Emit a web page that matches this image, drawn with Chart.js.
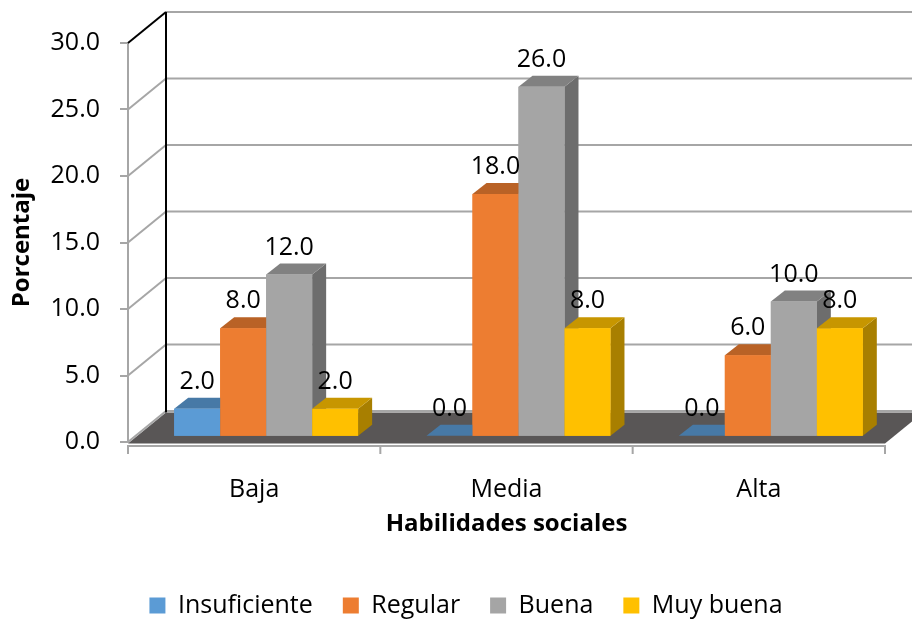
<!DOCTYPE html>
<html>
<head>
<meta charset="utf-8">
<script src="https://cdn.jsdelivr.net/npm/chart.js@4.4.1/dist/chart.umd.min.js"></script>
<style>
  html, body { margin: 0; padding: 0; background: #ffffff; }
  #wrap { width: 912px; height: 621px; }
</style>
</head>
<body>
<div id="wrap"><canvas id="chart" width="912" height="621"></canvas></div>
<script>
// Categories and series values (percentages)
const categories = ['Baja', 'Media', 'Alta'];
const insuficiente = [2.0, 0.0, 0.0];
const regular = [8.0, 18.0, 6.0];
const buena = [12.0, 26.0, 10.0];
const muyBuena = [2.0, 8.0, 8.0];
const seriesNames = ['Insuficiente', 'Regular', 'Buena', 'Muy buena'];
const yTickValues = [0, 5, 10, 15, 20, 25, 30];

const FONT = "'Open Sans', 'Noto Sans', sans-serif";
const GRID = '#a6a6a6';
const frontColors = ['#5B9BD5', '#ED7D31', '#A5A5A5', '#FFC000'];

function shade(hex, f) {
  const n = parseInt(hex.slice(1), 16);
  const r = Math.round(((n >> 16) & 255) * f);
  const g = Math.round(((n >> 8) & 255) * f);
  const b = Math.round((n & 255) * f);
  return `rgb(${r},${g},${b})`;
}
const topColors = frontColors.map(c => shade(c, 0.78));
const sideColors = frontColors.map(c => shade(c, 0.66));

// Depth of the walls / floor and of each bar
const WALL = { dx: 38, dy: -31 };
const BAR = { dx: 14, dy: -11 };
const BAR_SHIFT = 12;

function poly(ctx, pts) {
  ctx.beginPath();
  ctx.moveTo(pts[0][0], pts[0][1]);
  for (let i = 1; i < pts.length; i++) ctx.lineTo(pts[i][0], pts[i][1]);
  ctx.closePath();
  ctx.fill();
}

const scene3d = {
  id: 'scene3d',
  beforeDatasetsDraw(chart) {
    const { ctx, chartArea: a, scales: { x, y } } = chart;
    ctx.save();
    // back wall gridlines with their diagonal on the side wall
    ctx.lineWidth = 2;
    yTickValues.forEach(v => {
      const py = y.getPixelForValue(v);
      ctx.strokeStyle = GRID;
      ctx.beginPath();
      ctx.moveTo(a.left + WALL.dx, py + WALL.dy);
      ctx.lineTo(chart.width + 10, py + WALL.dy);
      ctx.stroke();
      ctx.strokeStyle = v === yTickValues[yTickValues.length - 1] ? '#000000' : GRID;
      ctx.beginPath();
      ctx.moveTo(a.left, py);
      ctx.lineTo(a.left + WALL.dx, py + WALL.dy);
      ctx.stroke();
    });
    // back corner edge
    const topBack = y.getPixelForValue(yTickValues[yTickValues.length - 1]) + WALL.dy;
    const floorFront = a.bottom + 1.5;
    ctx.strokeStyle = '#000000';
    ctx.beginPath();
    ctx.moveTo(a.left + WALL.dx, topBack);
    ctx.lineTo(a.left + WALL.dx, floorFront + WALL.dy);
    ctx.stroke();
    // floor
    ctx.fillStyle = '#595656';
    poly(ctx, [[a.left, floorFront], [a.right, floorFront],
               [a.right + WALL.dx, floorFront + WALL.dy], [a.left + WALL.dx, floorFront + WALL.dy]]);
    // category axis line and tick marks
    const axisY = a.bottom + 4;
    ctx.strokeStyle = GRID;
    ctx.beginPath();
    ctx.moveTo(a.left, axisY);
    ctx.lineTo(a.right, axisY);
    const bounds = [a.left];
    for (let i = 1; i < categories.length; i++) {
      bounds.push((x.getPixelForValue(i - 1) + x.getPixelForValue(i)) / 2);
    }
    bounds.push(a.right);
    bounds.forEach(bx => { ctx.moveTo(bx, axisY - 1); ctx.lineTo(bx, axisY + 8); });
    ctx.stroke();
    ctx.restore();
    // bars sit a little behind the front plane
    ctx.save();
    ctx.translate(BAR_SHIFT, 0);
  },
  afterDatasetsDraw(chart) {
    const { ctx } = chart;
    const metas = chart.data.datasets.map((d, i) => chart.getDatasetMeta(i));
    for (let j = 0; j < categories.length; j++) {
      metas.forEach((meta, i) => {
        const el = meta.data[j];
        const { x, y, base, width } = el.getProps(['x', 'y', 'base', 'width'], true);
        const x1 = x - width / 2, x2 = x + width / 2;
        ctx.fillStyle = sideColors[i];
        poly(ctx, [[x2, y], [x2 + BAR.dx, y + BAR.dy], [x2 + BAR.dx, base + BAR.dy], [x2, base]]);
        ctx.fillStyle = topColors[i];
        poly(ctx, [[x1, y], [x2, y], [x2 + BAR.dx, y + BAR.dy], [x1 + BAR.dx, y + BAR.dy]]);
        el.draw(ctx);
      });
    }
    // value labels
    ctx.font = `25px ${FONT}`;
    ctx.fillStyle = '#000000';
    ctx.textAlign = 'center';
    ctx.textBaseline = 'middle';
    metas.forEach((meta, i) => {
      meta.data.forEach((el, j) => {
        const v = chart.data.datasets[i].data[j];
        ctx.fillText(v.toFixed(1), el.x, el.y - 27);
      });
    });
    ctx.restore();
  }
};

const seriesValues = [insuficiente, regular, buena, muyBuena];

new Chart(document.getElementById('chart'), {
  type: 'bar',
  data: {
    labels: categories,
    datasets: seriesValues.map((vals, i) => ({
      label: seriesNames[i],
      data: vals,
      backgroundColor: frontColors[i],
      borderWidth: 0,
      yAxisID: 'yb',
      categoryPercentage: 0.729,
      barPercentage: 1.0
    }))
  },
  options: {
    responsive: false,
    animation: false,
    events: [],
    layout: { padding: { top: 43, left: 47, right: 27, bottom: -7 } },
    scales: {
      x: {
        grid: { display: false },
        border: { display: false },
        ticks: { font: { family: FONT, size: 25 }, color: '#000000', padding: 25 },
        title: {
          display: true, text: 'Habilidades sociales', color: '#000000',
          font: { family: FONT, size: 24, weight: 'bold' },
          padding: { top: 0, bottom: 24 }
        },
        afterFit(s) { s.height = 121; }
      },
      y: {
        position: 'left',
        min: 0, max: 30,
        afterBuildTicks(s) { s.ticks = yTickValues.map(v => ({ value: v })); },
        ticks: {
          callback: v => Number(v).toFixed(1),
          font: { family: FONT, size: 25 }, color: '#000000', padding: 20
        },
        grid: { drawOnChartArea: false, drawTicks: true, tickLength: 8, color: GRID, lineWidth: 2 },
        border: { display: true, color: GRID, width: 2 },
        title: {
          display: true, text: 'Porcentaje', color: '#000000',
          font: { family: FONT, size: 24, weight: 'bold' },
          padding: { top: -39, bottom: 0 }
        },
        afterFit(s) { s.width = 81; }
      },
      yb: { display: false, min: -0.469, max: 29.25 }
    },
    plugins: {
      tooltip: { enabled: false },
      legend: {
        position: 'bottom',
        labels: {
          boxWidth: 16, boxHeight: 16, padding: 30, color: '#000000',
          font: { family: FONT, size: 25 }
        }
      }
    }
  },
  plugins: [scene3d]
});
</script>
</body>
</html>
